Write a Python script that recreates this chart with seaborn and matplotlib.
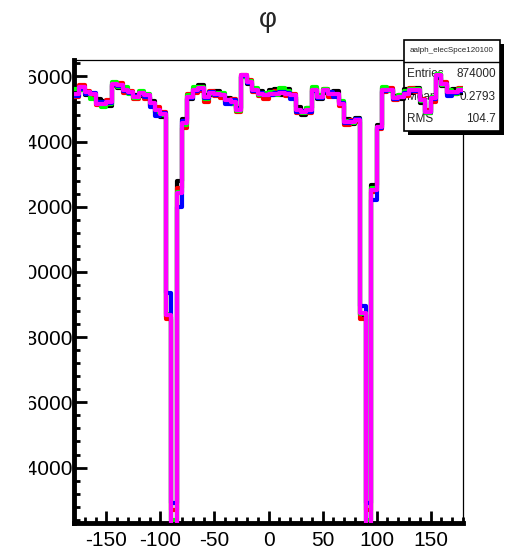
import numpy as np
import pandas as pd
import seaborn as sns
import matplotlib.pyplot as plt
from matplotlib.patches import Rectangle
from matplotlib.lines import Line2D
from matplotlib.transforms import Bbox, TransformedBbox
from matplotlib.ticker import MultipleLocator

# phi histogram, 72 bins of 5 degrees from -180 to 180
bin_edges = list(range(-180, 185, 5))

black_counts = [25500, 25600, 25420, 25380, 25300, 25250, 25100, 25760, 25650, 25620, 25480, 25430,
                25400, 25350, 25230, 24880, 24750, 18620, 0, 22780, 24680, 25300, 25620, 25720,
                25430, 25420, 25560, 25380, 25330, 25150, 25020, 25990, 25760, 25600, 25540, 25360,
                25580, 25620, 25440, 25600, 25380, 25050, 24820, 25030, 25640, 25300, 25500, 25420,
                25560, 25200, 24700, 24540, 24720, 18680, 0, 22660, 24500, 25640, 25620, 25400,
                25300, 25600, 25500, 25650, 25180, 24860, 25250, 25960, 25700, 25450, 25600, 25500]
red_counts = [25380, 25720, 25560, 25400, 25120, 25100, 25280, 25700, 25780, 25500, 25560, 25300,
              25420, 25300, 25100, 25050, 24900, 18560, 12710, 22570, 24420, 25450, 25500, 25560,
              25220, 25540, 25400, 25330, 25200, 25300, 24900, 26050, 25880, 25520, 25400, 25300,
              25420, 25540, 25560, 25400, 25460, 24880, 24950, 24880, 25600, 25420, 25620, 25380,
              25420, 25100, 24520, 24660, 24600, 18560, 12710, 22450, 24380, 25520, 25640, 25260,
              25420, 25400, 25640, 25520, 25300, 24960, 25200, 26000, 25820, 25460, 25460, 25640]
green_counts = [25600, 25580, 25480, 25300, 25220, 25050, 25150, 25820, 25680, 25660, 25460, 25330,
                25550, 25460, 25120, 24920, 24800, 18700, 12400, 22450, 24500, 25420, 25660, 25680,
                25300, 25460, 25500, 25480, 25200, 25160, 24940, 25980, 25860, 25640, 25440, 25480,
                25520, 25420, 25640, 25540, 25360, 24940, 24860, 25020, 25680, 25420, 25600, 25500,
                25400, 25250, 24640, 24580, 24700, 18720, 12400, 22560, 24460, 25680, 25540, 25360,
                25440, 25560, 25600, 25620, 25240, 24860, 25380, 26080, 25720, 25580, 25460, 25600]
blue_counts = [25400, 25620, 25460, 25500, 25200, 25220, 25180, 25740, 25700, 25540, 25500, 25400,
               25460, 25380, 25050, 24780, 24860, 19350, 12920, 22000, 24620, 25340, 25540, 25600,
               25330, 25520, 25420, 25440, 25150, 25260, 25000, 26000, 25780, 25560, 25500, 25440,
               25430, 25500, 25520, 25500, 25300, 24920, 24930, 24920, 25540, 25330, 25560, 25520,
               25380, 25180, 24580, 24620, 24680, 18950, 12920, 22200, 24420, 25540, 25580, 25300,
               25380, 25500, 25560, 25560, 25280, 24920, 25300, 26010, 25760, 25400, 25500, 25560]
magenta_counts = [25450, 25660, 25520, 25450, 25160, 25160, 25210, 25775, 25725, 25570, 25520, 25370,
                  25480, 25420, 25170, 24960, 24840, 18680, 0, 22420, 24560, 25370, 25570, 25630,
                  25370, 25480, 25470, 25420, 25265, 25210, 24960, 26030, 25825, 25570, 25470, 25420,
                  25470, 25470, 25490, 25470, 25420, 24960, 24900, 24960, 25570, 25370, 25570, 25470,
                  25470, 25150, 24600, 24600, 24650, 18740, 0, 22510, 24440, 25570, 25570, 25320,
                  25370, 25470, 25570, 25570, 25265, 24900, 25320, 26030, 25775, 25520, 25520, 25570]

series = [("black", "#000000", black_counts),
          ("red", "#ff0000", red_counts),
          ("green", "#00ff00", green_counts),
          ("blue", "#0000ff", blue_counts),
          ("magenta", "#ff00ff", magenta_counts)]

y_ticks = [14000, 16000, 18000, 20000, 22000, 24000, 26000]
x_ticks = [-150, -100, -50, 0, 50, 100, 150]

stats_name = "aalph_elecSpce120100"
stats_rows = [("Entries", "874000"), ("Mean", "0.2793"), ("RMS", "104.7")]

sns.set_style("ticks")
plt.rcParams["font.family"] = ["Liberation Sans", "DejaVu Sans"]
plt.rcParams["axes.unicode_minus"] = False

W, H = 510, 554
fig = plt.figure(figsize=(W / 100, H / 100), dpi=100)
ax = fig.add_axes([74 / W, 1 - 523 / H, (463 - 74) / W, (523 - 60) / H])

centers = [(a + b) / 2 for a, b in zip(bin_edges[:-1], bin_edges[1:])]
for name, color, counts in series:
    df = pd.DataFrame({"phi": centers, "count": counts})
    sns.histplot(data=df, x="phi", weights="count", bins=bin_edges, element="step",
                 fill=False, color=color, linewidth=3, ax=ax, zorder=3)

ax.set_xlim(-180, 180)
ax.set_ylim(12300, 26500)
ax.set_xlabel("")
ax.set_ylabel("")
ax.set_xticks(x_ticks)
ax.set_xticklabels([str(v) for v in x_ticks])
ax.xaxis.set_minor_locator(MultipleLocator(10))
ax.set_yticks(y_ticks)
ax.set_yticklabels([str(v) for v in y_ticks])
ax.yaxis.set_minor_locator(MultipleLocator(400))
ax.tick_params(which="both", direction="in", width=2, colors="black", labelsize=15)
ax.tick_params(which="major", length=9)
ax.tick_params(which="minor", length=4.5)
ax.tick_params(axis="x", pad=6)
ax.tick_params(axis="y", pad=1)

for side in ["left", "bottom"]:
    ax.spines[side].set_linewidth(3.5)
for side in ["top", "right"]:
    ax.spines[side].set_linewidth(0.9)
for s in ax.spines.values():
    s.set_color("black")

# the y labels are cut off at the left edge of the canvas
clip = TransformedBbox(Bbox([[29 / W, 0], [1, 1]]), fig.transFigure)
for lab in ax.get_yticklabels():
    lab.set_clip_box(clip)
    lab.set_clip_on(True)

fig.text(268 / W, 1 - 20 / H, "φ", ha="center", va="center", fontsize=20)

# stats box (drawn over the frame but under the histograms)
def fx(px):
    return px / W

def fy(py):
    return 1 - py / H

tf = fig.transFigure
shadow = Rectangle((fx(408), fy(135)), fx(504) - fx(408), fy(44) - fy(135), transform=tf,
                   facecolor="black", edgecolor="none", clip_on=False, zorder=2.6)
box = Rectangle((fx(404), fy(131)), fx(500) - fx(404), fy(40) - fy(131), transform=tf,
                facecolor="white", edgecolor="black", linewidth=1.2, clip_on=False, zorder=2.65)
ax.add_patch(shadow)
ax.add_patch(box)
ax.add_line(Line2D([fx(404), fx(500)], [fy(62), fy(62)], transform=tf, color="black",
                   linewidth=1.0, clip_on=False, zorder=2.7))
ax.text(fx(452), fy(51), stats_name, transform=tf, ha="center", va="center", fontsize=5.8,
        clip_on=False, zorder=2.7)
for (label, value), py in zip(stats_rows, [74, 97, 119]):
    ax.text(fx(407), fy(py), label, transform=tf, ha="left", va="center", fontsize=8.5,
            clip_on=False, zorder=2.7)
    ax.text(fx(496), fy(py), value, transform=tf, ha="right", va="center", fontsize=8.5,
            clip_on=False, zorder=2.7)

fig.savefig("out.png", dpi=100)
